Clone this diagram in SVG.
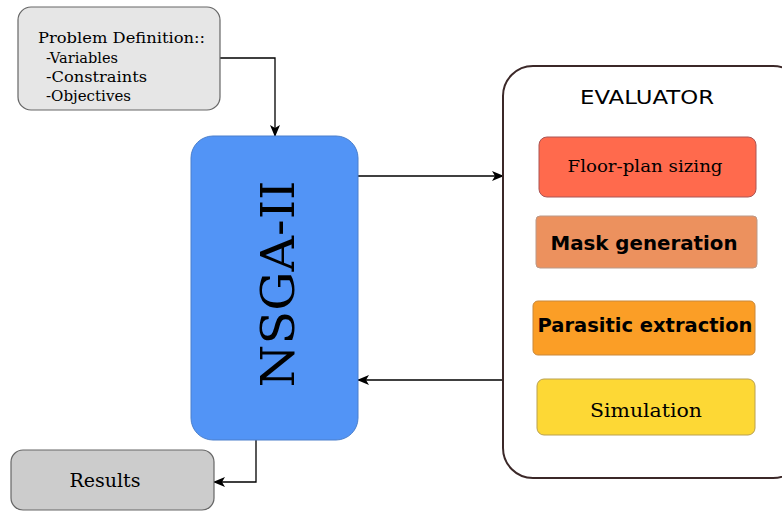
<svg xmlns="http://www.w3.org/2000/svg" width="782" height="514" viewBox="0 0 782 514">
  <defs>
    <marker id="arrow" viewBox="0 0 12 10" refX="11" refY="5" markerWidth="12" markerHeight="10" markerUnits="userSpaceOnUse" orient="auto">
      <path d="M0,0 L12,5 L0,10 L3,5 Z" fill="#000"/>
    </marker>
  </defs>
  <style>
    .serif { font-family: "DejaVu Serif", "Liberation Serif", serif; fill: #000; }
    .sans { font-family: "DejaVu Sans", "Liberation Sans", sans-serif; fill: #000; }
    .conn { fill: none; stroke: #000; stroke-width: 1.3; }
    .box { stroke: #666; stroke-width: 1.2; }
  </style>
  <rect width="782" height="514" fill="#fff"/>

  <g id="connectors">
    <path class="conn" d="M220,58 H275 V136" marker-end="url(#arrow)"/>
    <path class="conn" d="M358,176 H503" marker-end="url(#arrow)"/>
    <path class="conn" d="M503,380 H358" marker-end="url(#arrow)"/>
    <path class="conn" d="M256,440 V482 H214" marker-end="url(#arrow)"/>
  </g>

  <g id="problem-definition">
    <rect class="box" x="18" y="7" width="202" height="103" rx="13" fill="#e6e6e6"/>
    <text class="serif" font-size="14" x="38" y="43" textLength="167" lengthAdjust="spacingAndGlyphs">Problem Definition::</text>
    <text class="serif" font-size="14" x="46" y="63" textLength="72" lengthAdjust="spacingAndGlyphs">-Variables</text>
    <text class="serif" font-size="14" x="46" y="82" textLength="101" lengthAdjust="spacingAndGlyphs">-Constraints</text>
    <text class="serif" font-size="14" x="46" y="101" textLength="85" lengthAdjust="spacingAndGlyphs">-Objectives</text>
  </g>

  <g id="nsga">
    <rect x="191" y="136" width="167" height="304" rx="22" fill="#5294f6" stroke="#4a7fcc" stroke-width="1"/>
    <text class="serif" font-size="47" text-anchor="middle" transform="translate(294,284) rotate(-90)" textLength="207" lengthAdjust="spacingAndGlyphs">NSGA-II</text>
  </g>

  <g id="results">
    <rect class="box" x="11" y="450" width="203" height="60" rx="12" fill="#cccccc"/>
    <text class="serif" font-size="19" text-anchor="middle" x="105" y="487" textLength="71" lengthAdjust="spacingAndGlyphs">Results</text>
  </g>

  <g id="evaluator">
    <rect x="503" y="66" width="300" height="412" rx="30" fill="#fff" stroke="#3b2828" stroke-width="2"/>
    <text class="sans" font-size="20" text-anchor="middle" x="647" y="104" textLength="134" lengthAdjust="spacingAndGlyphs">EVALUATOR</text>
  </g>

  <g id="floor-plan">
    <rect x="539" y="137" width="217" height="60" rx="8" fill="#ff6a4d" stroke="#a55" stroke-width="1"/>
    <text class="serif" font-size="17" text-anchor="middle" x="645" y="172" textLength="155" lengthAdjust="spacingAndGlyphs">Floor-plan sizing</text>
  </g>

  <g id="mask-generation">
    <rect x="536" y="216" width="221" height="52" rx="4" fill="#ec915e" stroke="#b98" stroke-width="1"/>
    <text class="sans" font-size="20" font-weight="bold" text-anchor="middle" x="644" y="250" textLength="187" lengthAdjust="spacingAndGlyphs">Mask generation</text>
  </g>

  <g id="parasitic-extraction">
    <rect x="533" y="301" width="222" height="54" rx="5" fill="#fb9e26" stroke="#c9883a" stroke-width="1"/>
    <text class="sans" font-size="20" font-weight="bold" text-anchor="middle" x="645" y="332" textLength="215" lengthAdjust="spacingAndGlyphs">Parasitic extraction</text>
  </g>

  <g id="simulation">
    <rect x="537" y="379" width="218" height="56" rx="7" fill="#fdd835" stroke="#b9a050" stroke-width="1"/>
    <text class="serif" font-size="18" text-anchor="middle" x="646" y="417" textLength="112" lengthAdjust="spacingAndGlyphs">Simulation</text>
  </g>
</svg>
